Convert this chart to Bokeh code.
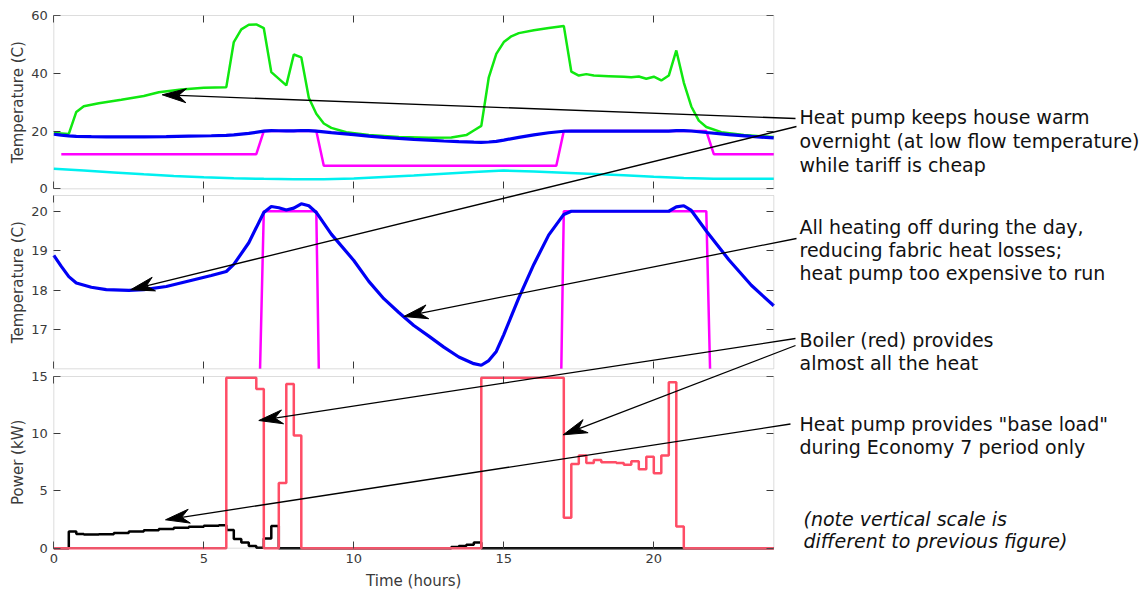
import math
from bokeh.plotting import figure
from bokeh.models import (Range1d, LinearAxis, FixedTicker, BoxAnnotation, Label, Arrow)
from bokeh.embed import file_html
from bokeh.resources import INLINE

# ---------------- data ----------------
t_flow = [0, 0.5, 0.75, 1.0, 1.5, 2.25, 3.0, 3.5, 4.25, 5.0, 5.75, 6.0, 6.25, 6.5, 6.75,
          7.0, 7.25, 7.75, 8.0, 8.25, 8.5, 8.75, 9.0, 9.25, 9.75, 10.5, 11.5, 12.5, 13.25, 13.75,
          14.0, 14.25, 14.5, 14.75, 15.0, 15.25, 15.5, 16.0, 16.5, 17.0, 17.25, 17.5, 17.75, 18.0,
          18.5, 19.0, 19.25, 19.5, 19.75, 20.0, 20.25, 20.5, 20.75, 21.0, 21.25, 21.5, 21.75,
          22.25, 23.0, 24.0]
flow_temp = [19.3, 19.0, 26.6, 28.6, 29.6, 30.8, 32.1, 33.4, 34.4, 35.0, 35.2, 50.8, 55.2, 56.8,
             56.9, 55.6, 40.4, 35.8, 46.5, 45.5, 31.5, 26.0, 22.6, 21.1, 19.6, 18.6, 17.95, 17.7,
             17.75, 18.6, 20.2, 21.8, 38.6, 46.7, 50.8, 52.8, 53.9, 54.9, 55.7, 56.4, 40.6, 39.2,
             39.7, 39.2, 39.0, 38.8, 38.6, 38.9, 38.1, 38.8, 37.5, 39.2, 47.9, 36.8, 28.5, 23.6,
             21.4, 19.6, 18.6, 17.9]

t_room = [0, 0.25, 0.5, 0.75, 1.25, 1.75, 2.5, 3.0, 3.75, 4.5, 5.25, 5.75, 6.0, 6.5, 7.0, 7.25,
          7.5, 7.75, 8.0, 8.25, 8.5, 8.75, 9.25, 10.0, 10.5, 11.0, 11.5, 12.0, 12.5, 13.0, 13.5,
          14.0, 14.25, 14.5, 14.75, 15.0, 15.5, 16.0, 16.5, 17.0, 17.25, 20.5, 20.75, 21.0, 21.25,
          21.75, 22.5, 23.25, 24.0]
room_temp = [18.88, 18.6, 18.34, 18.18, 18.07, 18.01, 17.99, 18.01, 18.09, 18.23, 18.37, 18.47,
             18.65, 19.2, 19.97, 20.12, 20.09, 20.03, 20.08, 20.19, 20.14, 19.97, 19.42, 18.75,
             18.22, 17.78, 17.43, 17.1, 16.83, 16.55, 16.3, 16.13, 16.09, 16.21, 16.44, 16.87,
             17.8, 18.65, 19.4, 19.92, 20.0, 20.0, 20.11, 20.14, 20.02, 19.5, 18.77, 18.12, 17.6]

t_set = [0.25, 6.75, 7.0, 8.75, 9.0, 16.75, 17.0, 21.75, 22.0, 24.0]
setpoint = [12, 12, 20, 20, 8, 8, 20, 20, 12, 12]

t_out = [0, 1, 2, 3, 4, 5, 6, 7, 8, 9, 10, 11, 12, 13, 14, 15, 16, 17, 18, 19, 20, 21, 22, 23, 24]
outdoor_temp = [6.9, 6.3, 5.65, 5.0, 4.45, 4.0, 3.65, 3.45, 3.3, 3.3, 3.6, 4.1, 4.6, 5.2, 5.8,
                6.3, 5.95, 5.55, 5.15, 4.7, 4.2, 3.75, 3.5, 3.45, 3.45]

t_boiler = [0, 5.75, 6.75, 7.0, 7.5, 7.75, 8.0, 8.25, 14.25, 17.0, 17.25, 17.5, 17.75, 18.0,
            18.25, 18.5, 18.75, 19.0, 19.25, 19.5, 19.75, 20.0, 20.25, 20.5, 20.75, 21.0, 24.0]
boiler_kw = [0, 14.9, 13.9, 0, 5.7, 14.35, 9.85, 0, 14.9, 2.65, 7.35, 8.1, 7.45, 7.7, 7.5, 7.5,
             7.45, 7.3, 7.6, 6.9, 8.0, 6.55, 8.1, 14.5, 1.9, 0, 0]

t_hp = [0, 0.5, 0.75, 1.0, 1.5, 2.0, 2.5, 3.0, 3.5, 4.0, 4.5, 5.0, 5.5, 5.75, 6.0, 6.25, 6.5,
        6.75, 7.0, 7.25, 7.5, 13.25, 13.5, 13.75, 14.0, 14.25, 24.0]
heatpump_kw = [0, 1.45, 1.25, 1.2, 1.22, 1.33, 1.45, 1.57, 1.68, 1.78, 1.88, 1.96, 2.0, 1.6, 0.8,
               0.5, 0.2, 0.05, 0.85, 1.95, 0, 0.1, 0.2, 0.3, 0.5, 0, 0]

x_ticks = [0, 5, 10, 15, 20]
top_ticks = [0, 20, 40, 60]
mid_ticks = [17, 18, 19, 20]
bot_ticks = [0, 5, 10, 15]

y_labels = ["Temperature (C)", "Temperature (C)", "Power (kW)"]
x_label = "Time (hours)"

notes = [
    "Heat pump keeps house warm",
    "overnight (at low flow temperature)",
    "while tariff is cheap",
    "All heating off during the day,",
    "reducing fabric heat losses;",
    "heat pump too expensive to run",
    "Boiler (red) provides",
    "almost all the heat",
    'Heat pump provides "base load"',
    "during Economy 7 period only",
    "(note vertical scale is",
    "different to previous figure)",
]

# ---------------- layout (pixels) ----------------
W, H = 1146, 589
PL, PR = 53.3, 773.3           # pixel columns of t=0 and t=24
PPH = (PR - PL) / 24.0          # pixels per hour
panels = [
    dict(name="top", lo=0.0, hi=60.0, T=15.0, B=188.3, ticks=top_ticks),
    dict(name="mid", lo=16.0, hi=20.4, T=195.0, B=368.3, ticks=mid_ticks),
    dict(name="bot", lo=0.0, hi=15.0, T=376.0, B=547.7, ticks=bot_ticks),
]
for pn in panels:
    pn["s"] = (pn["B"] - pn["T"]) / (pn["hi"] - pn["lo"])

FONT = "DejaVu Sans"
TICK_C = "#3a3a3a"
BOX_C = "#8f8f8f"
TICK_LEN = 7

p = figure(width=W, height=H, output_backend="svg", toolbar_location=None, title=None,
           x_range=Range1d(-PL / PPH, (W - PL) / PPH), y_range=Range1d(H, 0),
           x_axis_location=None, y_axis_location=None,
           min_border=0, min_border_left=0, min_border_right=0,
           min_border_top=0, min_border_bottom=0)
p.grid.visible = False
p.outline_line_color = None
p.background_fill_color = "white"
p.border_fill_color = "white"

p.extra_x_ranges = {"px": Range1d(0, W)}
yr = {}
for pn in panels:
    s = pn["s"]
    yr[pn["name"]] = Range1d(pn["lo"] - (H - pn["B"]) / s, pn["hi"] + pn["T"] / s)
p.extra_y_ranges = yr

# ---------------- axes (fixed inside the frame, ticks pointing inwards) ----------------
def make_axis(nm, loc, ticks, show_labels):
    return LinearAxis(y_range_name=nm, fixed_location=loc,
                      ticker=FixedTicker(ticks=ticks, minor_ticks=[]),
                      axis_line_color=None, major_tick_in=TICK_LEN, major_tick_out=0,
                      major_tick_line_color=TICK_C, major_tick_line_width=1,
                      minor_tick_line_color=None,
                      major_label_text_font=FONT, major_label_text_font_size="13px",
                      major_label_text_color=TICK_C if show_labels else None,
                      major_label_standoff=6)

for pn in panels:
    nm = pn["name"]
    p.add_layout(BoxAnnotation(left=0, right=24, bottom=pn["lo"], top=pn["hi"], y_range_name=nm,
                               fill_alpha=0, line_color=BOX_C, line_width=1))
    p.add_layout(make_axis(nm, 0, pn["ticks"], True), "left")
    p.add_layout(make_axis(nm, 24, pn["ticks"], False), "right")
    p.add_layout(make_axis(nm, pn["hi"], x_ticks, False), "above")
    p.add_layout(make_axis(nm, pn["lo"], x_ticks, nm == "bot"), "below")

# ---------------- data lines ----------------
LW = 2.5
# middle-panel setpoint is drawn first and masked below the panel
p.line(t_set, setpoint, y_range_name="mid", line_color="#ff00ff", line_width=LW, level="image")
p.add_layout(BoxAnnotation(top=16.0, y_range_name="mid", fill_color="white", fill_alpha=1,
                           line_color=None, level="underlay"))

p.line(t_out, outdoor_temp, y_range_name="top", line_color="#00f0f0", line_width=LW)
p.line(t_set, setpoint, y_range_name="top", line_color="#ff00ff", line_width=LW)
p.line(t_flow, flow_temp, y_range_name="top", line_color="#10e810", line_width=LW)
p.line(t_room, room_temp, y_range_name="top", line_color="#0000f5", line_width=3.2)

p.line(t_room, room_temp, y_range_name="mid", line_color="#0000f5", line_width=3.2)

p.step(t_hp, heatpump_kw, mode="after", y_range_name="bot", line_color="#000000", line_width=LW)
p.step(t_boiler, boiler_kw, mode="after", y_range_name="bot", line_color="#ff4d66", line_width=LW)

# ---------------- axis titles ----------------
for pn, txt in zip(panels, y_labels):
    p.add_layout(Label(x=17.5, y=(pn["T"] + pn["B"]) / 2, x_range_name="px", text=txt,
                       angle=math.pi / 2, text_align="center", text_baseline="middle",
                       text_font=FONT, text_font_size="15px", text_color=TICK_C))
p.add_layout(Label(x=12, y=580, text=x_label, text_align="center", text_baseline="middle",
                   text_font=FONT, text_font_size="15px", text_color=TICK_C))

# ---------------- annotations ----------------
note_x = [799] * 10 + [803, 803]
note_y = [116.5, 140.3, 164.0, 226.0, 249.3, 272.7, 339.3, 362.7, 423.3, 446.7, 518.3, 540.7]
note_style = ["normal"] * 10 + ["italic", "italic"]
for txt, x, y, st in zip(notes, note_x, note_y, note_style):
    p.add_layout(Label(x=x, y=y, x_range_name="px", text=txt, text_align="left",
                       text_baseline="alphabetic", text_font=FONT, text_font_size="19px",
                       text_font_style=st, text_color="#111111"))

arrows = [((795, 118), (161.7, 94.3)),
          ((796, 126), (130.0, 289.3)),
          ((796, 238), (403.3, 316.0)),
          ((795, 338), (258.3, 420.0)),
          ((795, 345), (562.7, 434.3)),
          ((790, 423.5), (165.0, 519.3))]
HL, HW, NOTCH = 24.0, 14.0, 0.68
hx, hy = [], []
for (sx, sy), (tx_, ty_) in arrows:
    dx, dy = sx - tx_, sy - ty_
    n = math.hypot(dx, dy)
    ux, uy = dx / n, dy / n
    nx, ny = -uy, ux
    bx, by = tx_ + HL * ux, ty_ + HL * uy
    mx, my = tx_ + NOTCH * HL * ux, ty_ + NOTCH * HL * uy
    hx.append([tx_, bx + HW / 2 * nx, mx, bx - HW / 2 * nx])
    hy.append([ty_, by + HW / 2 * ny, my, by - HW / 2 * ny])
    p.add_layout(Arrow(x_start=sx, y_start=sy, x_end=mx, y_end=my, x_range_name="px",
                       end=None, line_color="black", line_width=1.3))
p.patches(hx, hy, x_range_name="px", fill_color="black", line_color="black", line_width=1,
          level="overlay")

open("out.html", "w").write(file_html(p, INLINE))
